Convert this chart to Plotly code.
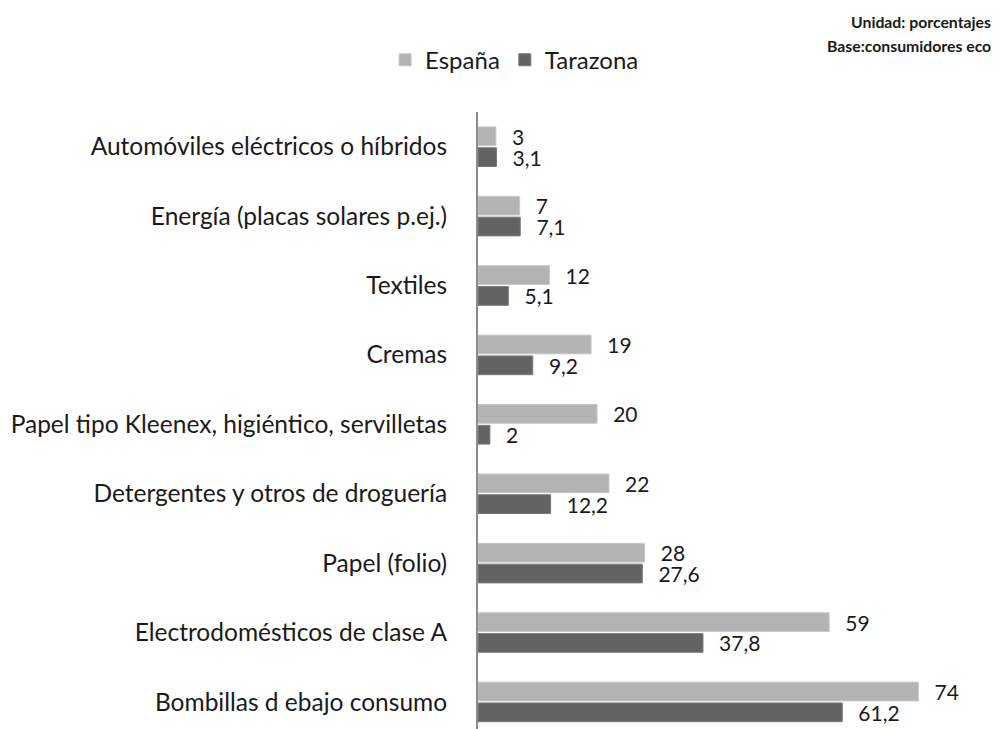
import plotly.graph_objects as go

# categories, top to bottom
categorias = [
    "Automóviles eléctricos o híbridos",
    "Energía (placas solares p.ej.)",
    "Textiles",
    "Cremas",
    "Papel tipo Kleenex, higiéntico, servilletas",
    "Detergentes y otros de droguería",
    "Papel (folio)",
    "Electrodomésticos de clase A",
    "Bombillas d ebajo consumo",
]
espana = [3, 7, 12, 19, 20, 22, 28, 59, 74]
tarazona = [3.1, 7.1, 5.1, 9.2, 2, 12.2, 27.6, 37.8, 61.2]


def etiqueta(v):
    # small gap before the label, decimal comma
    return "\u2002\u2009" + str(v).replace(".", ",")


fig = go.Figure()
fig.add_trace(go.Bar(
    y=categorias, x=espana, orientation="h", name="España",
    marker=dict(color="#b3b3b3", line=dict(color="#c8c8c8", width=1)),
    text=[etiqueta(v) for v in espana], textposition="outside",
    textfont=dict(size=21, color="#1a1a1a"), cliponaxis=False,
    constraintext="none",
))
fig.add_trace(go.Bar(
    y=categorias, x=tarazona, orientation="h", name="Tarazona",
    marker=dict(color="#636363", line=dict(color="#7a7a7a", width=1)),
    text=[etiqueta(v) for v in tarazona], textposition="outside",
    textfont=dict(size=21, color="#1a1a1a"), cliponaxis=False,
    constraintext="none",
))

# page body adds an 8px margin, so the figure is 8px smaller each way
fig.update_layout(
    width=994, height=721,
    margin=dict(l=470, r=30, t=104, b=0, autoexpand=False),
    paper_bgcolor="white", plot_bgcolor="white",
    font=dict(family="Lato, Open Sans, sans-serif", size=24, color="#1a1a1a"),
    barmode="group", bargap=0.4, bargroupgap=0.1,
    showlegend=True,
    legend=dict(orientation="h", x=0.074, xanchor="center", y=1.084, yanchor="middle",
                font=dict(size=24), traceorder="normal", itemwidth=30),
    annotations=[
        dict(text="<b>Unidad: porcentajes</b>", x=1.0425, xref="paper", xanchor="right",
             y=1.146, yref="paper", yanchor="middle", showarrow=False,
             font=dict(size=15.8, color="#1a1a1a")),
        dict(text="<b>Base:consumidores eco</b>", x=1.0425, xref="paper", xanchor="right",
             y=1.107, yref="paper", yanchor="middle", showarrow=False,
             font=dict(size=15.8, color="#1a1a1a")),
    ],
)
fig.update_xaxes(range=[0, 83], visible=False)
fig.update_yaxes(
    categoryorder="array", categoryarray=categorias,
    range=[8.39, -0.5],
    showline=True, linecolor="#8c8c8c", linewidth=2,
    showgrid=False, zeroline=False,
    ticks="", ticklabelstandoff=24,
    tickfont=dict(size=24.5),
)

fig.write_html("out.html")
